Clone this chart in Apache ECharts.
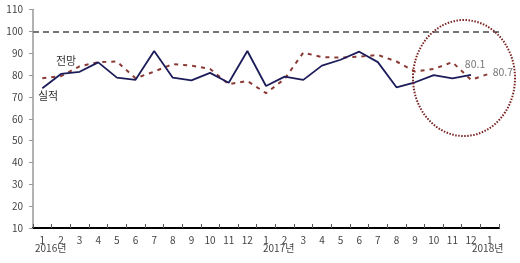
<!DOCTYPE html>
<html><head><meta charset="utf-8">
<script src="https://cdn.jsdelivr.net/npm/echarts@6/dist/echarts.min.js"></script>
<style>html,body{margin:0;padding:0;background:#fff}#c{width:520px;height:263px}</style>
</head><body><div id="c"></div>
<script>
const months = ['1','2','3','4','5','6','7','8','9','10','11','12','1','2','3','4','5','6','7','8','9','10','11','12','1'];
const yearLabels = ['2016년','2017년','2018년'];
const actual = [74,80.5,81.5,85.8,78.8,77.8,91,78.8,77.6,81,76.5,91,75,79.3,77.8,84.3,87,90.7,85.9,74.4,76.7,80,78.5,80.1,null];
const forecast = [78.5,79.5,84,85.9,86.2,78.5,81.6,85,84.3,82.8,75.8,77.3,71.7,78.2,90.3,88.2,88,88.4,89.2,86.2,81.6,82.8,85.9,77.8,80.7];
const refLevel = 100;

const FONT = '"Noto Sans CJK KR", "Liberation Sans", sans-serif';
const chart = echarts.init(document.getElementById('c'), null, {renderer:'canvas'});

const lastA = 23, lastF = 24;
const actualData = actual.map((v,i)=> i===lastA ? {value:v, label:{show:true, position:'top', offset:[4,-1], color:'#777', fontSize:10.5, fontFamily:FONT}} : v);
const forecastData = forecast.map((v,i)=> i===lastF ? {value:v, label:{show:true, position:'right', offset:[-2,-2], color:'#777', fontSize:10.5, fontFamily:FONT}} : v);

chart.setOption({
  animation:false,
  grid:{left:33, right:21, top:9.5, bottom:35},
  xAxis:{
    type:'category', data:months, boundaryGap:true,
    axisLine:{lineStyle:{color:'#000', width:2}},
    axisTick:{show:true, inside:true, length:4, lineStyle:{color:'#555'}},
    axisLabel:{color:'#444', fontSize:10, fontFamily:FONT, margin:7, interval:0}
  },
  yAxis:{
    type:'value', min:10, max:110, interval:10,
    axisLine:{show:true, lineStyle:{color:'#999', width:1.5}},
    axisTick:{show:true, length:4, lineStyle:{color:'#999'}},
    splitLine:{show:false},
    axisLabel:{color:'#444', fontSize:10, fontFamily:FONT, margin:10}
  },
  series:[
    {name:'전망', type:'line', data:forecastData, symbol:'circle', symbolSize:0, showSymbol:true, z:2,
     label:{show:false},
     lineStyle:{color:'#8a3a34', width:2, type:[4,5]},
     markLine:{silent:true, symbol:'none', label:{show:false},
       lineStyle:{color:'#777', type:[6,4], width:2},
       data:[{yAxis:refLevel}]}},
    {name:'실적', type:'line', data:actualData, symbol:'circle', symbolSize:0, showSymbol:true, z:3,
     label:{show:false},
     lineStyle:{color:'#1c1c5a', width:1.8}}
  ],
  graphic:[
    {type:'text', left:56, top:55, style:{text:'전망', fill:'#333', font:'11px '+FONT}},
    {type:'text', left:38, top:90, style:{text:'실적', fill:'#333', font:'11px '+FONT}},
    {type:'text', left:35, top:243, style:{text:yearLabels[0], fill:'#444', font:'10px '+FONT}},
    {type:'text', left:263, top:243, style:{text:yearLabels[1], fill:'#444', font:'10px '+FONT}},
    {type:'text', left:472, top:243, style:{text:yearLabels[2], fill:'#444', font:'10px '+FONT}},
    {type:'ellipse', shape:{cx:464, cy:78, rx:51, ry:58}, z:10,
     style:{fill:'none', stroke:'#7a2222', lineWidth:2, lineDash:[1.5,1.5]}}
  ]
});
</script></body></html>
